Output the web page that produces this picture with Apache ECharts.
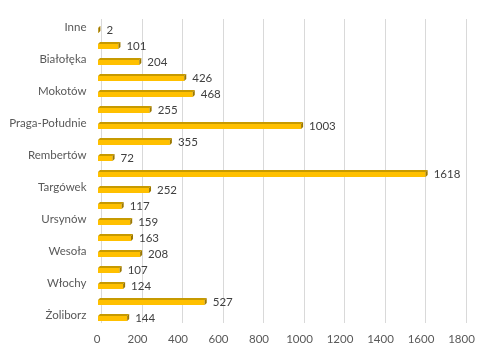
<!DOCTYPE html>
<html><head><meta charset="utf-8">
<script src="https://cdn.jsdelivr.net/npm/echarts@6/dist/echarts.min.js"></script>
<style>html,body{margin:0;padding:0;background:#fff}#c{width:498px;height:360px}</style>
</head><body><div id="c"></div>
<script>
// bottom -> top order (ECharts category axis starts at bottom)
const categories = ['Żoliborz','Wola','Włochy','Wilanów','Wesoła','Wawer','Ursynów','Ursus','Targówek','Śródmieście','Rembertów','Praga-Północ','Praga-Południe','Ochota','Mokotów','Bielany','Białołęka','Bemowo','Inne'];
const values = [144,527,124,107,208,163,159,117,252,1618,72,355,1003,255,468,426,204,101,2];
const xTicks = [0,200,400,600,800,1000,1200,1400,1600,1800];

const FONT = 'Lato';
const FS = 11.5;
const chart = echarts.init(document.getElementById('c'));
chart.setOption({
  animation:false,
  grid:{left:101.5,right:32,top:19,bottom:37,containLabel:false},
  xAxis:{type:'value',min:xTicks[0],max:xTicks[xTicks.length-1],interval:xTicks[1]-xTicks[0],
    axisLine:{show:false},axisTick:{show:false},
    splitLine:{show:true,lineStyle:{color:'#d9d9d9',width:1}},
    axisLabel:{color:'#595959',fontFamily:FONT,fontSize:FS,margin:10,padding:[0,9,0,0],
      formatter:function(v){return String(v);}}},
  yAxis:{type:'category',data:categories,
    axisLine:{show:false},axisTick:{show:false},
    axisLabel:{interval:1,color:'#595959',fontFamily:FONT,fontSize:FS,margin:15,padding:[9,0,0,0]}},
  series:[{
    type:'custom',
    data:values.map((v,i)=>[v,categories[i]]),
    encode:{x:0,y:1},
    renderItem:function(params,api){
      const v=api.value(0), idx=api.value(1);
      const p0=api.coord([0,idx]), p1=api.coord([v,idx]);
      const dx=-3.5, dy=3;
      const cy=p0[1]+dy;
      const xa=p0[0]+dx, xb=p1[0]+dx;
      const top=cy-2, bot=cy+3, d=2;
      return {type:'group',children:[
        {type:'rect',shape:{x:xa,y:top,width:Math.max(xb-xa,0.5),height:bot-top},style:{fill:'#ffc000'}},
        {type:'polygon',shape:{points:[[xa,top],[xa+d,top-d],[xb+d,top-d],[xb,top]]},style:{fill:'#c79a00'}},
        {type:'polygon',shape:{points:[[xb,top],[xb+d,top-d],[xb+d,bot-d],[xb,bot]]},style:{fill:'#9c7800'}},
        {type:'text',style:{x:xb+d+6,y:cy,text:String(v),fill:'#404040',font:FS+'px '+FONT,textAlign:'left',textVerticalAlign:'middle'}}
      ]};
    }
  }]
});
</script></body></html>
